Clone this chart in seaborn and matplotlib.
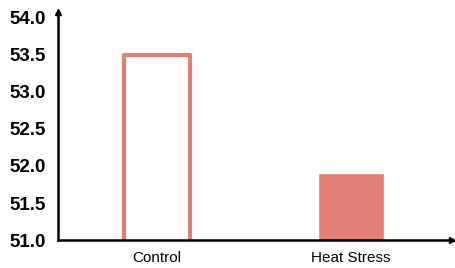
import matplotlib
matplotlib.use("Agg")
import matplotlib.pyplot as plt
import seaborn as sns
import pandas as pd

groups = ['Control', 'Heat Stress']
values = [53.5, 51.9]
yticks = [51.0, 51.5, 52.0, 52.5, 53.0, 53.5, 54.0]

df = pd.DataFrame({'group': groups, 'value': values})

sns.set_style("white")
plt.rcParams['font.family'] = ['Liberation Sans', 'DejaVu Sans']
plt.rcParams['text.color'] = 'black'
plt.rcParams['xtick.color'] = 'black'
plt.rcParams['ytick.color'] = 'black'

fig = plt.figure(figsize=(4.55, 2.68), dpi=100)
ax = fig.add_axes([0.1275, 0.104, 0.865, 0.85])

color = '#E07F76'
sns.barplot(data=df, x='group', y='value', color=color, width=0.34, ax=ax,
            saturation=1)

# control bar is drawn hollow
p = ax.patches[0]
p.set_facecolor('white')
p.set_edgecolor(color)
p.set_linewidth(3)
p.set_joinstyle('round')

ax.set_ylim(51.0, 54.07)
ax.set_xlim(-0.51, 1.52)
ax.set_yticks(yticks)
ax.set_yticklabels([f'{v:.1f}' for v in yticks], fontsize=13.5, fontweight='bold')
ax.tick_params(axis='y', length=0, pad=9)
ax.tick_params(axis='x', length=0, pad=8, labelsize=11)
ax.set_xlabel('')
ax.set_ylabel('')

for s in ['top', 'right']:
    ax.spines[s].set_visible(False)
for s in ['left', 'bottom']:
    ax.spines[s].set_linewidth(1.8)
    ax.spines[s].set_color('black')

# arrow heads on the axes
ax.plot(1, 0, '>k', ms=4, transform=ax.transAxes, clip_on=False)
ax.plot(0, 1, '^k', ms=4, transform=ax.transAxes, clip_on=False)

plt.savefig('out.png', dpi=100)
